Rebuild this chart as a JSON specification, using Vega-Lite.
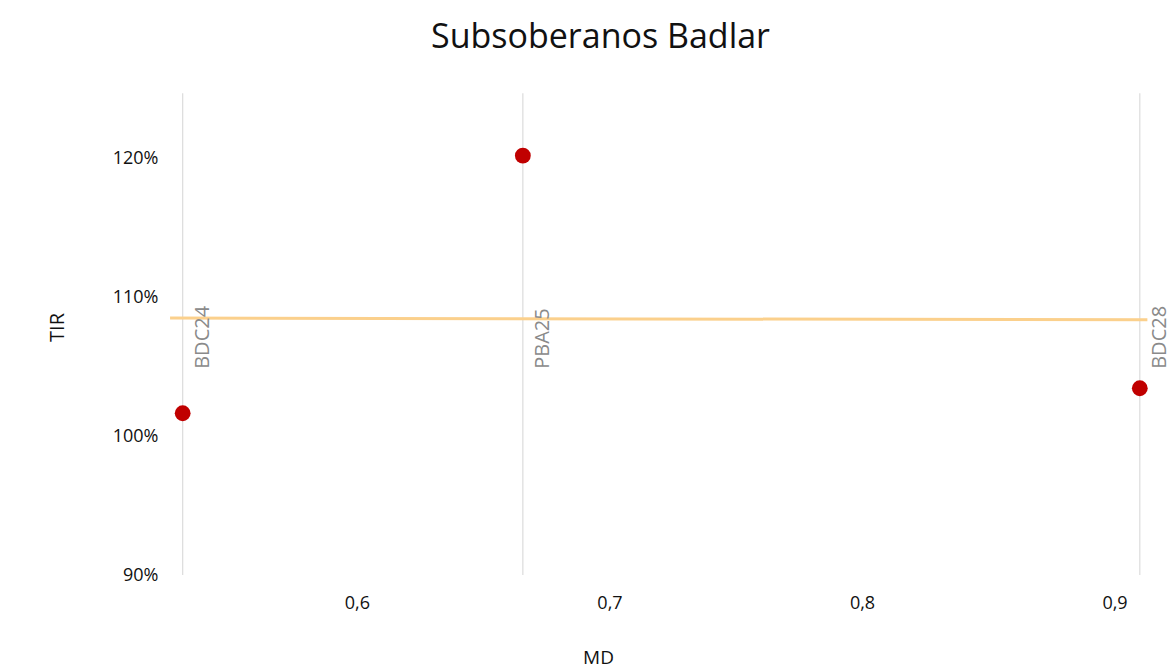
{
  "$schema": "https://vega.github.io/schema/vega-lite/v6.json",
  "autosize": "none",
  "width": 995,
  "height": 486,
  "padding": {"left": 165, "top": 89, "right": 12, "bottom": 95},
  "background": "white",
  "title": {
    "text": "Subsoberanos Badlar",
    "fontSize": 34,
    "font": "Open Sans",
    "fontWeight": "normal",
    "color": "#111111",
    "anchor": "middle",
    "dx": -62,
    "offset": 34
  },
  "config": {
    "view": {"stroke": null},
    "font": "Open Sans"
  },
  "datasets": {
    "bonds": [
      {"bono": "BDC24", "MD": 0.531, "TIR": 1.0165},
      {"bono": "PBA25", "MD": 0.6657, "TIR": 1.202},
      {"bono": "BDC28", "MD": 0.910, "TIR": 1.0345}
    ],
    "trend": [
      {"MD": 0.526, "TIR": 1.085},
      {"MD": 0.913, "TIR": 1.0838}
    ]
  },
  "encoding": {
    "x": {
      "field": "MD",
      "type": "quantitative",
      "scale": {"domain": [0.524, 0.918], "nice": false, "zero": false},
      "axis": {
        "title": "MD",
        "values": [0.6, 0.7, 0.8, 0.9],
        "labelExpr": "replace(format(datum.value, '.1f'), '.', ',')",
        "grid": false,
        "domain": false,
        "ticks": false,
        "labelFontSize": 18,
        "labelColor": "#111111",
        "labelPadding": 19,
        "titleFontSize": 19,
        "titleFontWeight": "normal",
        "titleColor": "#111111",
        "titleX": 433,
        "titleY": 82,
        "titleBaseline": "middle"
      }
    },
    "y": {
      "field": "TIR",
      "type": "quantitative",
      "scale": {"domain": [0.9, 1.25], "nice": false, "zero": false},
      "axis": {
        "title": "TIR",
        "values": [0.9, 1.0, 1.1, 1.2],
        "format": ".0%",
        "grid": false,
        "domain": false,
        "ticks": false,
        "labelFontSize": 18,
        "labelColor": "#111111",
        "labelPadding": 7,
        "titleFontSize": 20,
        "titleFontWeight": "normal",
        "titleColor": "#111111",
        "titleAngle": -90,
        "titleX": -108,
        "titleY": 238,
        "titleAlign": "center",
        "titleBaseline": "middle"
      }
    }
  },
  "layer": [
    {
      "data": {"name": "bonds"},
      "mark": {"type": "rule", "color": "#dcdcdc", "strokeWidth": 1.2},
      "encoding": {
        "y": {"datum": 0.9},
        "y2": {"datum": 1.247}
      }
    },
    {
      "data": {"name": "trend"},
      "mark": {"type": "line", "color": "#fbd08c", "strokeWidth": 3}
    },
    {
      "data": {"name": "bonds"},
      "mark": {
        "type": "text",
        "angle": 270,
        "align": "left",
        "baseline": "top",
        "dy": 10,
        "fontSize": 20,
        "color": "#8a8a8a"
      },
      "encoding": {
        "y": {"datum": 1.0485},
        "text": {"field": "bono"}
      }
    },
    {
      "data": {"name": "bonds"},
      "mark": {"type": "point", "filled": true, "shape": "circle", "size": 250, "color": "#c00000", "opacity": 1}
    }
  ]
}
